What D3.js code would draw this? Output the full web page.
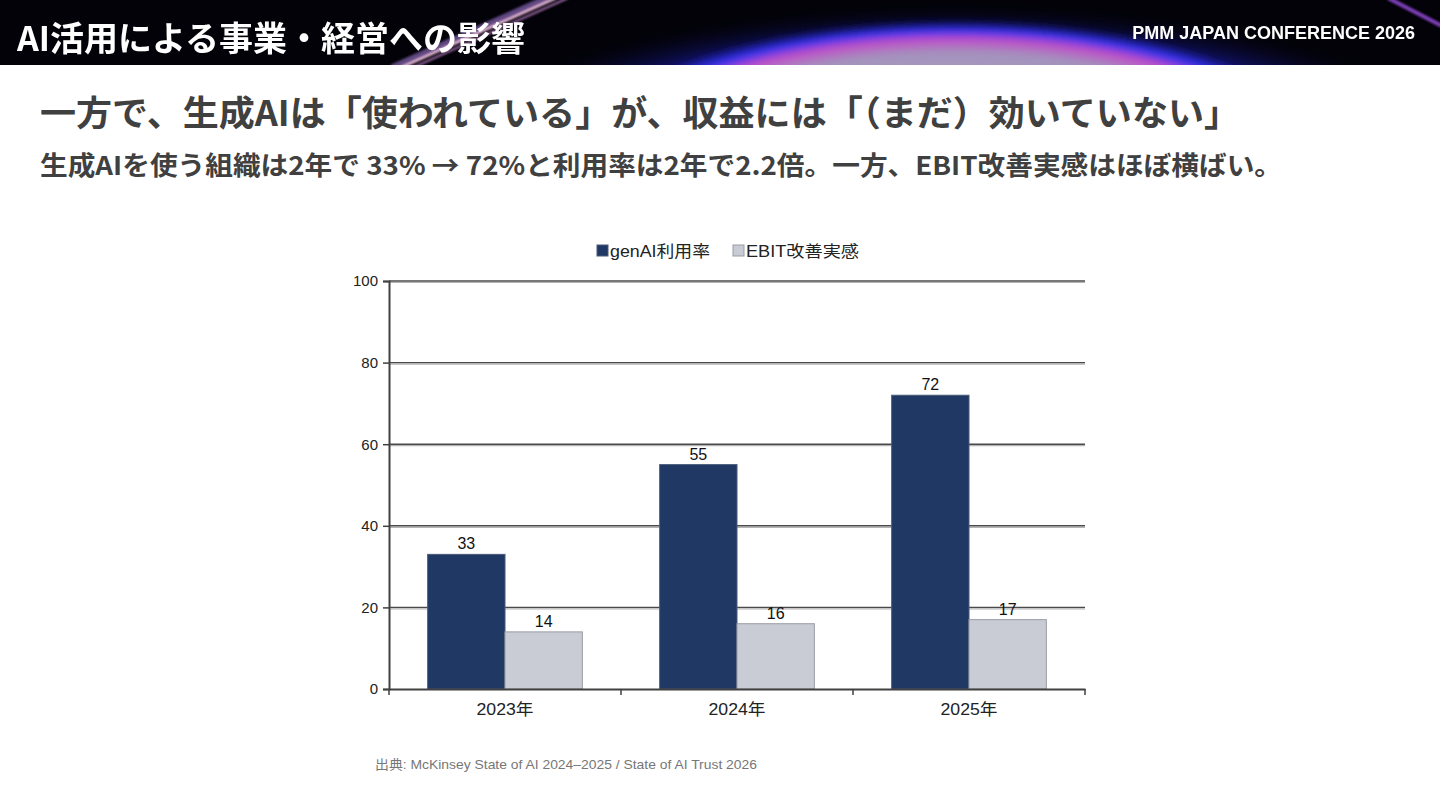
<!DOCTYPE html>
<html>
<head>
<meta charset="utf-8">
<script src="https://cdn.jsdelivr.net/npm/d3@7"></script>
<style>
  body { margin: 0; background: #fff; }
  svg { display: block; }
</style>
</head>
<body>
<div id="chart"></div>
<script>
// chart data
const years = ["2023年", "2024年", "2025年"]
const seriesNames = ["genAI利用率", "EBIT改善実感"]
const genAIRate = [33, 55, 72]
const ebitGain = [14, 16, 17]
const yTicks = [0, 20, 40, 60, 80, 100]

const W = 1440, H = 810
const svg = d3.select("#chart").append("svg")
  .attr("width", W).attr("height", H)

const defs = svg.append("defs")

// header planet glow
const glow = defs.append("radialGradient").attr("id", "glow")
  .attr("cx", "50%").attr("cy", "50%").attr("r", "50%")
glow.append("stop").attr("offset", "0%").attr("stop-color", "#c0b8cc")
glow.append("stop").attr("offset", "78%").attr("stop-color", "#a392bc")
glow.append("stop").attr("offset", "87%").attr("stop-color", "#c04cc8")
glow.append("stop").attr("offset", "93%").attr("stop-color", "#3434f0")
glow.append("stop").attr("offset", "100%").attr("stop-color", "#2020c0").attr("stop-opacity", 0)

const halo = defs.append("radialGradient").attr("id", "halo")
  .attr("cx", "50%").attr("cy", "50%").attr("r", "50%")
halo.append("stop").attr("offset", "60%").attr("stop-color", "#2828d8")
halo.append("stop").attr("offset", "80%").attr("stop-color", "#1a1aa0").attr("stop-opacity", 0.7)
halo.append("stop").attr("offset", "100%").attr("stop-color", "#000").attr("stop-opacity", 0)

defs.append("filter").attr("id", "blur")
  .append("feGaussianBlur").attr("stdDeviation", 3)
defs.append("filter").attr("id", "blur1")
  .append("feGaussianBlur").attr("stdDeviation", 1.2)

const clip = defs.append("clipPath").attr("id", "hdrclip")
clip.append("rect").attr("width", W).attr("height", 65)

const hdr = svg.append("g").attr("clip-path", "url(#hdrclip)")
hdr.append("rect").attr("width", W).attr("height", 65).attr("fill", "#020208")
hdr.append("ellipse")
  .attr("cx", 955).attr("cy", 185).attr("rx", 560).attr("ry", 185)
  .attr("fill", "url(#halo)")
hdr.append("ellipse")
  .attr("cx", 955).attr("cy", 168).attr("rx", 390).attr("ry", 148)
  .attr("fill", "url(#glow)").attr("filter", "url(#blur)")

// diagonal streaks
const streaks = hdr.append("g").attr("filter", "url(#blur1)")
streaks.append("line")
  .attr("x1", 392).attr("y1", 68).attr("x2", 548).attr("y2", -2)
  .attr("stroke", "#8a6ab8").attr("stroke-width", 7).attr("opacity", 0.7)
streaks.append("line")
  .attr("x1", 400).attr("y1", 68).attr("x2", 556).attr("y2", -2)
  .attr("stroke", "#e8b8d8").attr("stroke-width", 3)
streaks.append("line")
  .attr("x1", 412).attr("y1", 68).attr("x2", 568).attr("y2", -2)
  .attr("stroke", "#c080c8").attr("stroke-width", 2).attr("opacity", 0.8)
streaks.append("line")
  .attr("x1", 1388).attr("y1", -2).attr("x2", 1442).attr("y2", 26)
  .attr("stroke", "#a050e8").attr("stroke-width", 4).attr("opacity", 0.8)

hdr.append("text")
  .attr("x", 17).attr("y", 51)
  .attr("font-family", "'Noto Sans CJK JP', sans-serif")
  .attr("font-weight", 700).attr("font-size", 34)
  .attr("fill", "#fff")
  .attr("textLength", 508).attr("lengthAdjust", "spacingAndGlyphs")
  .text("AI活用による事業・経営への影響")

hdr.append("text")
  .attr("x", 1415).attr("y", 39)
  .attr("text-anchor", "end")
  .attr("font-family", "'Liberation Sans', Arial, sans-serif")
  .attr("font-weight", 700).attr("font-size", 18)
  .attr("fill", "#fff")
  .text("PMM JAPAN CONFERENCE 2026")

// headline + subtitle
svg.append("text")
  .attr("x", 40).attr("y", 126)
  .attr("font-family", "'Noto Sans CJK JP', sans-serif")
  .attr("font-weight", 700).attr("font-size", 35)
  .attr("fill", "#404040")
  .attr("textLength", 1200).attr("lengthAdjust", "spacingAndGlyphs")
  .text("一方で、生成AIは「使われている」が、収益には「（まだ）効いていない」")

svg.append("text")
  .attr("x", 40).attr("y", 175)
  .attr("font-family", "'Noto Sans CJK JP', sans-serif")
  .attr("font-weight", 700).attr("font-size", 26)
  .attr("fill", "#404040")
  .attr("textLength", 1242).attr("lengthAdjust", "spacingAndGlyphs")
  .text("生成AIを使う組織は2年で 33% → 72%と利用率は2年で2.2倍。一方、EBIT改善実感はほぼ横ばい。")

// chart
const margin = { left: 389, right: 1085, top: 281, bottom: 689 }
const chartFont = "'Liberation Sans', Arial, 'Noto Sans CJK JP', sans-serif"

const x0 = d3.scaleBand()
  .domain(years)
  .range([margin.left, margin.right])
  .paddingInner(0).paddingOuter(0)

const x1 = d3.scaleBand()
  .domain(seriesNames)
  .range([0, x0.bandwidth()])
  .paddingOuter(0.5)

const y = d3.scaleLinear()
  .domain([0, 100])
  .range([margin.bottom, margin.top])

const colors = { "genAI利用率": "#1f3864", "EBIT改善実感": "#c9ccd4" }
const strokes = { "genAI利用率": "#4a5a78", "EBIT改善実感": "#9a9ca4" }

// gridlines with shadow
const grid = svg.append("g")
grid.selectAll("line.sh")
  .data(yTicks.filter(d => d > 0))
  .join("line")
  .attr("class", "sh")
  .attr("x1", margin.left).attr("x2", margin.right)
  .attr("y1", d => y(d) + 1.5).attr("y2", d => y(d) + 1.5)
  .attr("stroke", "#b4b4b4").attr("stroke-width", 1.2)
grid.selectAll("line.gl")
  .data(yTicks.filter(d => d > 0))
  .join("line")
  .attr("class", "gl")
  .attr("x1", margin.left).attr("x2", margin.right)
  .attr("y1", d => y(d)).attr("y2", d => y(d))
  .attr("stroke", "#4a4a4a").attr("stroke-width", 1.4)

// bars
const rows = years.map((yr, i) => ({
  year: yr,
  vals: [
    { key: seriesNames[0], v: genAIRate[i] },
    { key: seriesNames[1], v: ebitGain[i] }
  ]
}))

const groups = svg.append("g").selectAll("g")
  .data(rows)
  .join("g")
  .attr("transform", d => `translate(${x0(d.year)},0)`)

groups.selectAll("rect")
  .data(d => d.vals)
  .join("rect")
  .attr("x", d => x1(d.key))
  .attr("y", d => y(d.v))
  .attr("width", x1.bandwidth())
  .attr("height", d => y(0) - y(d.v))
  .attr("fill", d => colors[d.key])
  .attr("stroke", d => strokes[d.key])
  .attr("stroke-width", 1)

groups.selectAll("text")
  .data(d => d.vals)
  .join("text")
  .attr("x", d => x1(d.key) + x1.bandwidth() / 2)
  .attr("y", d => y(d.v) - 5)
  .attr("text-anchor", "middle")
  .attr("font-family", chartFont)
  .attr("font-size", 16)
  .attr("fill", "#111")
  .text(d => d.v)

// axes
const yAxis = svg.append("g")
  .attr("transform", `translate(${margin.left},0)`)
  .call(d3.axisLeft(y).tickValues(yTicks).tickSize(6).tickPadding(5))
yAxis.select(".domain").attr("stroke", "#404040").attr("stroke-width", 2)
yAxis.selectAll(".tick line").attr("stroke", "#404040").attr("stroke-width", 1.5)
yAxis.selectAll(".tick text")
  .attr("font-family", chartFont).attr("font-size", 15).attr("fill", "#222")

const xAxis = svg.append("g")
  .attr("transform", `translate(0,${margin.bottom})`)
  .call(d3.axisBottom(x0).tickSize(0).tickPadding(15))
xAxis.select(".domain").attr("stroke", "#404040").attr("stroke-width", 2)
xAxis.selectAll(".tick text")
  .attr("font-family", chartFont).attr("font-size", 16).attr("fill", "#222")
  .attr("textLength", 57).attr("lengthAdjust", "spacingAndGlyphs")

// category separators
svg.append("g").selectAll("line")
  .data(years.map(d => x0(d)).concat([margin.right]))
  .join("line")
  .attr("x1", d => d).attr("x2", d => d)
  .attr("y1", margin.bottom).attr("y2", margin.bottom + 6)
  .attr("stroke", "#404040").attr("stroke-width", 1.5)

// legend
const legend = svg.append("g").attr("transform", "translate(597,245)")
const legendX = [0, 136]
const legendLen = [100, 113]
seriesNames.forEach((name, i) => {
  const g = legend.append("g").attr("transform", `translate(${legendX[i]},0)`)
  g.append("rect")
    .attr("width", 11).attr("height", 11)
    .attr("fill", colors[name]).attr("stroke", strokes[name])
  g.append("text")
    .attr("x", 13).attr("y", 12)
    .attr("font-family", chartFont).attr("font-size", 16)
    .attr("fill", "#222")
    .attr("textLength", legendLen[i]).attr("lengthAdjust", "spacingAndGlyphs")
    .text(name)
})

// source note
svg.append("text")
  .attr("x", 375).attr("y", 769)
  .attr("font-family", chartFont).attr("font-size", 13)
  .attr("fill", "#777")
  .attr("textLength", 382).attr("lengthAdjust", "spacingAndGlyphs")
  .text("出典: McKinsey State of AI 2024–2025 / State of AI Trust 2026")
</script>
</body>
</html>
